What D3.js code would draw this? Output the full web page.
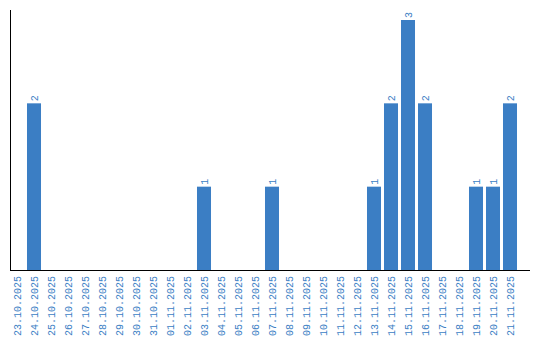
<!DOCTYPE html>
<html><head><meta charset="utf-8">
<script src="https://cdn.jsdelivr.net/npm/d3@7"></script>
<style>body{margin:0;background:#fff}svg{display:block}</style>
</head><body><svg id="c" width="540" height="340"></svg>
<script>
const categories = ["23.10.2025","24.10.2025","25.10.2025","26.10.2025","27.10.2025","28.10.2025","29.10.2025","30.10.2025","31.10.2025","01.11.2025","02.11.2025","03.11.2025","04.11.2025","05.11.2025","06.11.2025","07.11.2025","08.11.2025","09.11.2025","10.11.2025","11.11.2025","12.11.2025","13.11.2025","14.11.2025","15.11.2025","16.11.2025","17.11.2025","18.11.2025","19.11.2025","20.11.2025","21.11.2025"];
const values = [0,2,0,0,0,0,0,0,0,0,0,1,0,0,0,1,0,0,0,0,0,1,2,3,2,0,0,1,1,2];
const color = "#3b7ec4";
const svg = d3.select("#c");
const x = d3.scaleBand().domain(categories).range([8.5, 8.5 + 17*30]).paddingInner(0.176).paddingOuter(0.088);
const y = d3.scaleLinear().domain([0, 3.12]).range([270, 10]);
const data = categories.map((c,i)=>({c, v: values[i]}));
svg.selectAll("rect.bar").data(data.filter(d=>d.v>0)).join("rect")
  .attr("x", d=>x(d.c)).attr("width", x.bandwidth())
  .attr("y", d=>y(d.v)).attr("height", d=>y(0)-y(d.v)).attr("fill", color);
svg.selectAll("text.val").data(data.filter(d=>d.v>0)).join("text")
  .attr("transform", d=>`translate(${x(d.c)+x.bandwidth()/2},${y(d.v)-2}) rotate(-90)`)
  .attr("dy","0.35em").attr("text-anchor","start")
  .attr("font-family","Liberation Mono, monospace").attr("font-size",10).attr("fill",color)
  .text(d=>d.v);
svg.selectAll("text.cat").data(categories).join("text")
  .attr("transform", d=>`translate(${x(d)+x.bandwidth()/2},276) rotate(-90)`)
  .attr("dy","0.35em").attr("text-anchor","end")
  .attr("font-family","Liberation Mono, monospace").attr("font-size",10).attr("fill",color)
  .text(d=>d);
svg.append("line").attr("x1",10.5).attr("x2",10.5).attr("y1",10).attr("y2",270.5).attr("stroke","#000");
svg.append("line").attr("x1",10).attr("x2",530).attr("y1",270.5).attr("y2",270.5).attr("stroke","#000");
</script></body></html>
